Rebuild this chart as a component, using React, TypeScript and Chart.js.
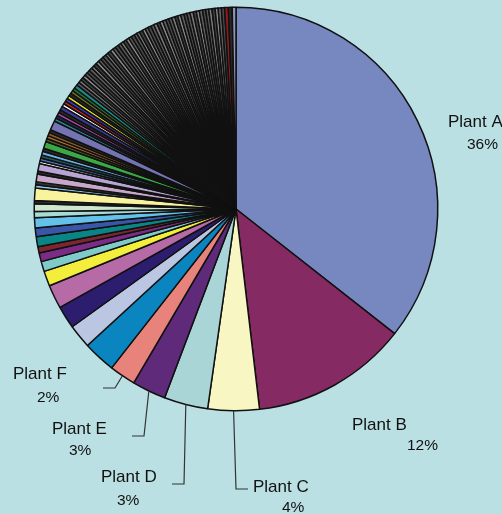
import React, { useEffect, useRef } from "react";
import { Chart, registerables } from "chart.js";

Chart.register(...registerables);

// Named plants
const namedLabels = ["Plant A", "Plant B", "Plant C", "Plant D", "Plant E", "Plant F"];
const namedPct = ["36%", "12%", "4%", "3%", "3%", "2%"];
const namedValues = [35.5, 12.5, 4.1, 3.5, 2.7, 2.1];
const namedColors = ["#7787c0", "#862a63", "#f8f6c2", "#a9d5d6", "#5f2a7a", "#e8837b"];

// Medium slices following Plant F
const midValues = [2.6, 1.9, 1.8, 1.9, 1.2, 0.8, 0.7, 0.5, 0.8, 0.7, 0.8, 0.5, 0.6];
const midColors = [
  "#0b85bf", "#bac6e2", "#2c1d6e", "#b66aa6", "#f3ee3c", "#7fcbca", "#7b2c86",
  "#7b2631", "#0a8585", "#3a56a8", "#64c1ea", "#a6dbd8", "#cde8cf",
];

// Thin coloured slices
const thinValues = [
  0.25, 1.0, 0.25, 0.25, 0.6, 0.25, 0.6, 0.2, 0.25, 0.25, 0.3, 0.25, 0.55, 0.25, 0.25, 0.25,
  0.25, 0.75, 0.25, 0.25, 0.25, 0.25, 0.3, 0.25, 0.25, 0.25, 0.25, 0.25, 0.25, 0.25, 0.3,
];
const thinColors = [
  "#2a2a2a", "#f8f39c", "#87c6e8", "#333333", "#c8a8c8", "#2a2a2a", "#b6a5d3", "#ffffff",
  "#4a6fc0", "#1f5a5a", "#6aaee0", "#2a2a2a", "#3aa845", "#4a5a2a", "#b06a2d", "#8b5a2b",
  "#2a2a2a", "#7474b4", "#2a8a8a", "#22225a", "#b04a9a", "#2a2a2a", "#3c3c9c", "#ffffff",
  "#e02020", "#3040c0", "#f0e020", "#2a2a2a", "#6a7a2a", "#2e6e2e", "#1a8a8a",
];

// Many tiny slices (upper left)
const tinyValues = [
  0.26, 0.24, 0.25, 0.26, 0.24, 0.25, 0.27, 0.24, 0.25, 0.26,
  0.24, 0.25, 0.26, 0.23, 0.25, 0.26, 0.24, 0.27, 0.25, 0.24,
  0.26, 0.25, 0.24, 0.26, 0.25, 0.23, 0.26, 0.25, 0.24, 0.26,
  0.25, 0.27, 0.24, 0.25, 0.26, 0.24, 0.25, 0.26, 0.23, 0.25,
  0.26, 0.24, 0.25, 0.26, 0.25, 0.24, 0.26, 0.25, 0.24, 0.26,
  0.25, 0.24, 0.26, 0.25,
];
const tinyPalette = ["#5a5a5a", "#7a7a7a", "#404040", "#8a8a8a", "#606060", "#4a4a4a"];

// Last slices before Plant A
const endValues = [0.3, 0.3, 0.3];
const endColors = ["#8c1c1c", "#2a2a2a", "#8f95b5"];

const values = [...namedValues, ...midValues, ...thinValues, ...tinyValues, ...endValues];
const colors = [
  ...namedColors,
  ...midColors,
  ...thinColors,
  ...tinyValues.map((_, i) => tinyPalette[i % tinyPalette.length]),
  ...endColors,
];
const labels = values.map((_, i) => (i < namedLabels.length ? namedLabels[i] : ""));

// Label layout (text anchor positions, leader-line elbows)
const labelLayout = [
  { nx: 448, ny: 127, px: 467, py: 149, elbow: null as null | number[], end: 0 },
  { nx: 352, ny: 430, px: 407, py: 450, elbow: null, end: 0 },
  { nx: 253, ny: 492, px: 282, py: 512, elbow: [236, 489], end: 248 },
  { nx: 101, ny: 482, px: 117, py: 505, elbow: [184, 484], end: 172 },
  { nx: 52, ny: 434, px: 69, py: 455, elbow: [144, 436], end: 132 },
  { nx: 13, ny: 379, px: 37, py: 402, elbow: [115, 388], end: 103 },
];

const labelPlugin = {
  id: "plantLabels",
  afterDatasetsDraw(chart: any) {
    const ctx = chart.ctx;
    const meta = chart.getDatasetMeta(0);
    ctx.save();
    for (let i = 0; i < namedLabels.length; i++) {
      const arc = meta.data[i];
      const p = arc.getProps(["x", "y", "startAngle", "endAngle", "outerRadius"], true);
      const mid = (p.startAngle + p.endAngle) / 2;
      const rx = p.x + Math.cos(mid) * p.outerRadius;
      const ry = p.y + Math.sin(mid) * p.outerRadius;
      const L = labelLayout[i];
      if (L.elbow) {
        ctx.strokeStyle = "#333333";
        ctx.lineWidth = 1.2;
        ctx.beginPath();
        ctx.moveTo(rx, ry);
        ctx.lineTo(L.elbow[0], L.elbow[1]);
        ctx.lineTo(L.end, L.elbow[1]);
        ctx.stroke();
      }
      ctx.fillStyle = "#111111";
      ctx.textAlign = "left";
      ctx.textBaseline = "alphabetic";
      ctx.font = "17px 'Liberation Sans', Arial, sans-serif";
      ctx.fillText(namedLabels[i], L.nx, L.ny);
      ctx.font = "15.5px 'Liberation Sans', Arial, sans-serif";
      ctx.fillText(namedPct[i], L.px, L.py);
    }
    ctx.restore();
  },
};

export default function App() {
  const ref = useRef<HTMLCanvasElement | null>(null);
  useEffect(() => {
    document.body.style.margin = "0";
    if (!ref.current) return;
    const chart = new Chart(ref.current, {
      type: "pie",
      data: {
        labels,
        datasets: [
          {
            data: values,
            backgroundColor: colors,
            borderColor: "#111111",
            borderWidth: 1.5,
          },
        ],
      },
      options: {
        responsive: false,
        animation: false,
        layout: { padding: { left: 33.5, right: 63.5, top: 6.5, bottom: 102.5 } },
        plugins: { legend: { display: false }, tooltip: { enabled: false } },
      },
      plugins: [labelPlugin],
    });
    return () => chart.destroy();
  }, []);
  return (
    <div style={{ position: "absolute", left: 0, top: 0, width: 502, height: 514, background: "#bbe0e3" }}>
      <canvas ref={ref} width={502} height={514} />
    </div>
  );
}
